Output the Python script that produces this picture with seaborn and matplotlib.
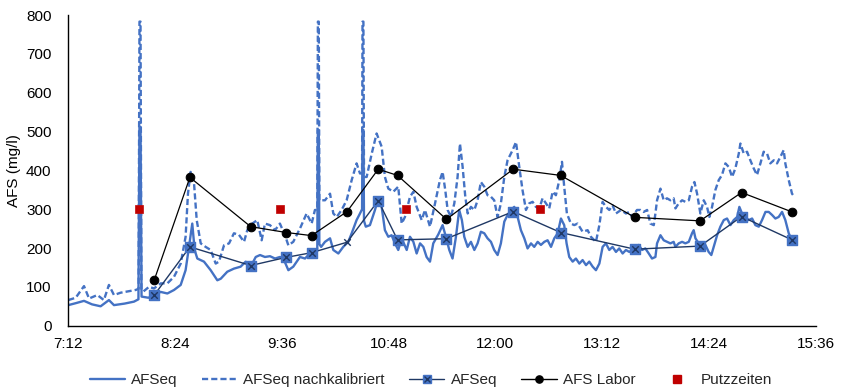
import matplotlib
matplotlib.use("Agg")
import numpy as np
import pandas as pd
import seaborn as sns
import matplotlib.pyplot as plt
from matplotlib.lines import Line2D
from matplotlib.legend_handler import HandlerTuple
from matplotlib.ticker import FuncFormatter

# ---------------- data ----------------
# continuous sensor series: minutes after 7:12, value in mg/l
afseq_t = [0, 5, 10.6, 16, 21.8, 27.4, 30.8, 38, 44.3, 47.3, 48.0, 48.7, 49.4, 54, 57.8, 62.3, 66.8,
           71.3, 75.8, 79.1, 81.4, 83.6, 85.2, 87, 91.5, 96, 100.5, 102.8, 107.2, 111.7, 116.2, 119.6,
           123, 126.4, 129.3, 132.6, 136, 139.4, 142.7, 145, 148.4, 151.7, 156.2, 159.6, 163, 166.3,
           167.9, 168.3, 168.9, 169.3, 170.5, 173.1, 176.5, 178.7, 182.1, 185.4, 188.8, 191.1, 194.4,
           196.7, 198.1, 198.4, 199.0, 199.4, 200.6, 203.4, 206.8, 209, 211.3, 213.5, 215.8, 218, 220.3,
           222.5, 224.8, 228.2, 230.4, 232.7, 234.9, 237.2, 239.4, 241.6, 243.9, 246.1, 249.5, 252.4,
           254.6, 256.9, 259.1, 261.4, 263.6, 265.4, 267, 269.3, 271.5, 273.8, 276, 278.2, 280.5, 282.7,
           285, 287.2, 289.5, 291.7, 294, 296.2, 298.5, 300.7, 303, 305.2, 307.5, 309.7, 312, 314.2,
           316.5, 318.7, 321, 323.2, 325.5, 327.7, 330, 332.2, 334.4, 336, 337.8, 340.1, 342.3, 344.6,
           346.8, 349.1, 351.3, 353.6, 355.8, 358.1, 360.3, 362.5, 364.8, 367, 369.3, 371.5, 373.8, 376,
           378.3, 380.1, 381.9, 384.6, 386.9, 389.1, 391.4, 393.6, 395.9, 397, 399.3, 401.5, 403.7, 406,
           408.2, 409.4, 411.6, 413.9, 416.1, 418.4, 420.6, 421.7, 422.9, 425.1, 427.4, 429.6, 431.8,
           433.6, 435.2, 437.5, 439.7, 442, 444.2, 446.5, 448.7, 451, 452.5, 454.3, 456.6, 458.8, 461.1,
           463.3, 465.6, 467.8, 470.1, 472.3, 474.6, 476.8, 479, 481.3, 483.5, 485.8, 488]
afseq_v = [53, 58, 64, 55, 50, 66, 53, 57, 62, 68, 512, 512, 75, 72, 79, 87, 83,
           92, 105, 143, 203, 263, 195, 173, 165, 143, 117, 121, 139, 147, 152, 165,
           152, 177, 182, 177, 179, 173, 177, 173, 143, 152, 177, 173, 186, 195,
           195, 504, 504, 210, 203, 216, 225, 195, 186, 203, 216, 238, 272,
           289, 300, 504, 504, 270, 255, 259, 298, 328, 306, 246, 229, 233, 212,
           195, 225, 195, 229, 216, 186, 212, 203, 177, 165, 212, 235, 259,
           229, 195, 173, 229, 298, 272, 229, 203, 216, 195, 212, 242, 238, 225,
           216, 195, 182, 212, 268, 285, 298, 306, 280, 246, 225, 199, 212, 203,
           216, 208, 216, 220, 203, 225, 238, 276, 259, 212, 177, 165, 173, 160,
           169, 156, 165, 152, 143, 160, 203, 212, 195, 203, 190, 199, 186, 195,
           190, 195, 198, 208, 195, 199, 186, 173, 177, 212, 233, 220, 216, 212,
           216, 203, 212, 216, 212, 216, 238, 246, 225, 212, 195, 208, 190,
           182, 203, 233, 255, 272, 276, 259, 272, 280, 306, 289, 280, 272, 276,
           259, 255, 272, 293, 293, 285, 276, 280, 293, 272, 238, 220]

kal_t = [0, 5, 10.6, 14, 19.6, 24, 27.4, 30.8, 35.3, 39.8, 45.4, 47.4, 48.0, 48.7, 49.3, 50.6, 54.4,
         57.8, 62.3, 66.8, 71.3, 75.8, 79.1, 80.7, 82.5, 84.8, 86.6, 89.3, 92.6, 96, 99.4, 101.6, 105,
         108.4, 111.7, 115.1, 118.5, 120.7, 124.1, 127.4, 130.4, 132.6, 136, 139.4, 142.7, 146.1, 148.4,
         151.7, 156.2, 160.7, 164.1, 166.3, 167.9, 168.3, 168.9, 169.3, 173.1, 176.5, 178.7, 181, 184.3,
         187.7, 191.1, 194.4, 196.7, 198.1, 198.4, 199.0, 199.4, 201.2, 204.6, 207.9, 211.3, 213.5,
         215.8, 219.2, 222.5, 224.8, 227, 230.4, 232.7, 234.9, 238.3, 240.5, 243.9, 247.3, 250.6, 252.4,
         254.2, 255.8, 258, 260.3, 262.5, 264.1, 265.9, 267.7, 269.3, 271.5, 273.8, 276, 278.2, 280.5,
         282.7, 285, 287.2, 289.5, 291.7, 294, 296.2, 299.6, 301.9, 304.1, 306.3, 308.6, 310.8, 313.1,
         315.3, 317.6, 319.8, 322.1, 324.3, 326.6, 328.8, 331.1, 332.9, 334.4, 336.2, 338.9, 341.2,
         343.4, 346.8, 350.2, 352.4, 355.8, 358.1, 360.3, 362.5, 364.8, 367, 369.3, 372.7, 376, 378.3,
         380.1, 383.5, 385.8, 388, 390.3, 392.5, 394.8, 395.9, 397, 399.3, 401.5, 403.7, 406, 408.2,
         409.4, 411.6, 413.9, 416.1, 418.4, 420.6, 422.2, 424, 426.2, 428.5, 430.7, 432.3, 434.1, 436.3,
         438.6, 440.8, 443.1, 445.3, 447.6, 449.8, 452.1, 453.2, 455.5, 457.7, 459.9, 462.2, 464.4,
         466.7, 468.9, 471.2, 473.4, 475.7, 477.9, 480.2, 482.4, 483.5, 485.8, 488, 489.2]
kal_v = [66, 72, 102, 70, 79, 66, 105, 79, 85, 88, 92, 95, 783, 783, 95, 88, 100,
         96, 109, 109, 126, 160, 229, 340, 396, 366, 272, 212, 203, 195, 160, 165, 207,
         212, 238, 234, 216, 246, 263, 272, 220, 263, 259, 246, 263, 233, 207,
         216, 250, 289, 263, 298, 298, 783, 783, 323, 323, 340, 289, 280, 298,
         323, 375, 418, 392, 392, 783, 783, 383, 383, 443, 495, 461, 383,
         353, 345, 358, 263, 280, 332, 345, 306, 272, 298, 255, 315, 375, 396,
         349, 298, 280, 315, 383, 469, 409, 332, 289, 306, 298, 323, 370, 358,
         336, 332, 323, 280, 315, 383, 426, 452, 473, 409, 349, 298, 315, 319,
         306, 302, 328, 315, 302, 345, 336, 375, 422, 358, 289, 263, 259,
         263, 242, 246, 229, 216, 259, 319, 306, 298, 310, 289, 298, 289, 293,
         280, 298, 298, 293, 298, 263, 259, 289, 323, 353, 323, 328, 323, 328,
         302, 315, 323, 319, 323, 358, 370, 340, 289, 323, 306, 280, 306, 349,
         375, 388, 418, 409, 383, 405, 443, 469, 443, 448, 426, 405, 388,
         418, 448, 443, 418, 426, 418, 435, 452, 418, 375, 340, 334]

# sampled points
sample_times = ["8:10", "8:34", "9:15", "9:39", "9:56", "10:20", "10:41", "10:54",
                "11:27", "12:12", "12:44", "13:34", "14:18", "14:46", "15:20"]
afseq_points = [79, 203, 155, 176, 188, 215, 322, 221, 224, 294, 240, 197, 205, 281, 221]
labor_points = [118, 382, 255, 240, 232, 294, 403, 387, 274, 403, 387, 279, 270, 343, 293]

putz_times = ["8:00", "9:35", "11:00", "12:30"]
putz_values = [300, 300, 300, 300]

x_ticks = ["7:12", "8:24", "9:36", "10:48", "12:00", "13:12", "14:24", "15:36"]
y_ticks = [0, 100, 200, 300, 400, 500, 600, 700, 800]

labels = ["AFSeq", "AFSeq nachkalibriert", "AFSeq", "AFS Labor", "Putzzeiten"]

# ---------------- styling ----------------
BLUE = "#4472C4"
NAVY = "#1F3864"
RED = "#C00000"
DASH = (0, (2.6, 1.3))

sns.set_theme(style="white")
plt.rcParams["font.family"] = ["Liberation Sans", "DejaVu Sans"]


def to_min(s):
    h, m = s.split(":")
    return int(h) * 60 + int(m)


T0 = to_min(x_ticks[0])

df_solid = pd.DataFrame({"t": np.array(afseq_t) + T0, "v": afseq_v})
df_kal = pd.DataFrame({"t": np.array(kal_t) + T0, "v": kal_v})
df_pts = pd.DataFrame({"t": [to_min(s) for s in sample_times],
                       "afseq": afseq_points, "labor": labor_points})
df_putz = pd.DataFrame({"t": [to_min(s) for s in putz_times], "v": putz_values})

fig = plt.figure(figsize=(8.42, 3.92), dpi=100)
ax = fig.add_axes([0.0811, 0.1691, 0.8877, 0.7926])

sns.lineplot(data=df_solid, x="t", y="v", ax=ax, color=BLUE, lw=1.7,
             sort=False, estimator=None, zorder=2)
sns.lineplot(data=df_kal, x="t", y="v", ax=ax, color=BLUE, lw=1.7,
             linestyle=DASH, sort=False, estimator=None, zorder=2)

# AFSeq sampled points: navy line, blue square with navy x
sns.lineplot(data=df_pts, x="t", y="afseq", ax=ax, color=NAVY, lw=1.0,
             sort=False, estimator=None, zorder=4)
sq = df_pts.drop(index=5)
ax.scatter(sq["t"], sq["afseq"], marker="s", s=42, color=BLUE, edgecolor=BLUE, zorder=5)
ax.scatter(df_pts["t"], df_pts["afseq"], marker="x", s=22, color=NAVY, linewidths=1.0, zorder=6)

# lab points
sns.lineplot(data=df_pts, x="t", y="labor", ax=ax, color="black", lw=0.9,
             marker="o", markersize=6.2, markeredgecolor="black",
             sort=False, estimator=None, zorder=7)

# cleaning times
sns.scatterplot(data=df_putz, x="t", y="v", ax=ax, marker="s", s=36,
                color=RED, edgecolor=RED, zorder=8, legend=False)

ax.set_xlim(to_min(x_ticks[0]), to_min(x_ticks[-1]))
ax.set_xticks([to_min(s) for s in x_ticks])
ax.xaxis.set_major_formatter(FuncFormatter(lambda x, p: f"{int(x // 60)}:{int(round(x % 60)):02d}"))
ax.set_ylim(y_ticks[0], y_ticks[-1])
ax.set_yticks(y_ticks)
ax.set_xlabel("")
ax.set_ylabel("AFS (mg/l)", fontsize=11, color="black", labelpad=4)
ax.tick_params(axis="both", length=0, labelsize=11, colors="black")
ax.tick_params(axis="y", pad=12)
ax.tick_params(axis="x", pad=8)
for sp in ["top", "right"]:
    ax.spines[sp].set_visible(False)
for sp in ["left", "bottom"]:
    ax.spines[sp].set_color("black")
    ax.spines[sp].set_linewidth(1.0)
if ax.get_legend():
    ax.get_legend().remove()

h1 = Line2D([], [], color=BLUE, lw=1.7)
h2 = Line2D([], [], color=BLUE, lw=1.7, linestyle=DASH)
h3 = (Line2D([], [], color=NAVY, lw=1.0, marker="s", markersize=5.5, mfc=BLUE, mec=BLUE),
      Line2D([], [], ls="none", marker="x", color=NAVY, markersize=4.5, mew=1.0))
h4 = Line2D([], [], color="black", lw=1.0, marker="o", markersize=5.2)
h5 = Line2D([], [], ls="none", marker="s", color=RED, markersize=5.5)
fig.legend([h1, h2, h3, h4, h5], labels,
           handler_map={tuple: HandlerTuple(ndivide=1)},
           ncol=5, loc="center", bbox_to_anchor=(0.512, 0.031), frameon=False,
           fontsize=11, handlelength=2.3, columnspacing=1.6, handletextpad=0.4)

fig.savefig("out.png", dpi=100)
